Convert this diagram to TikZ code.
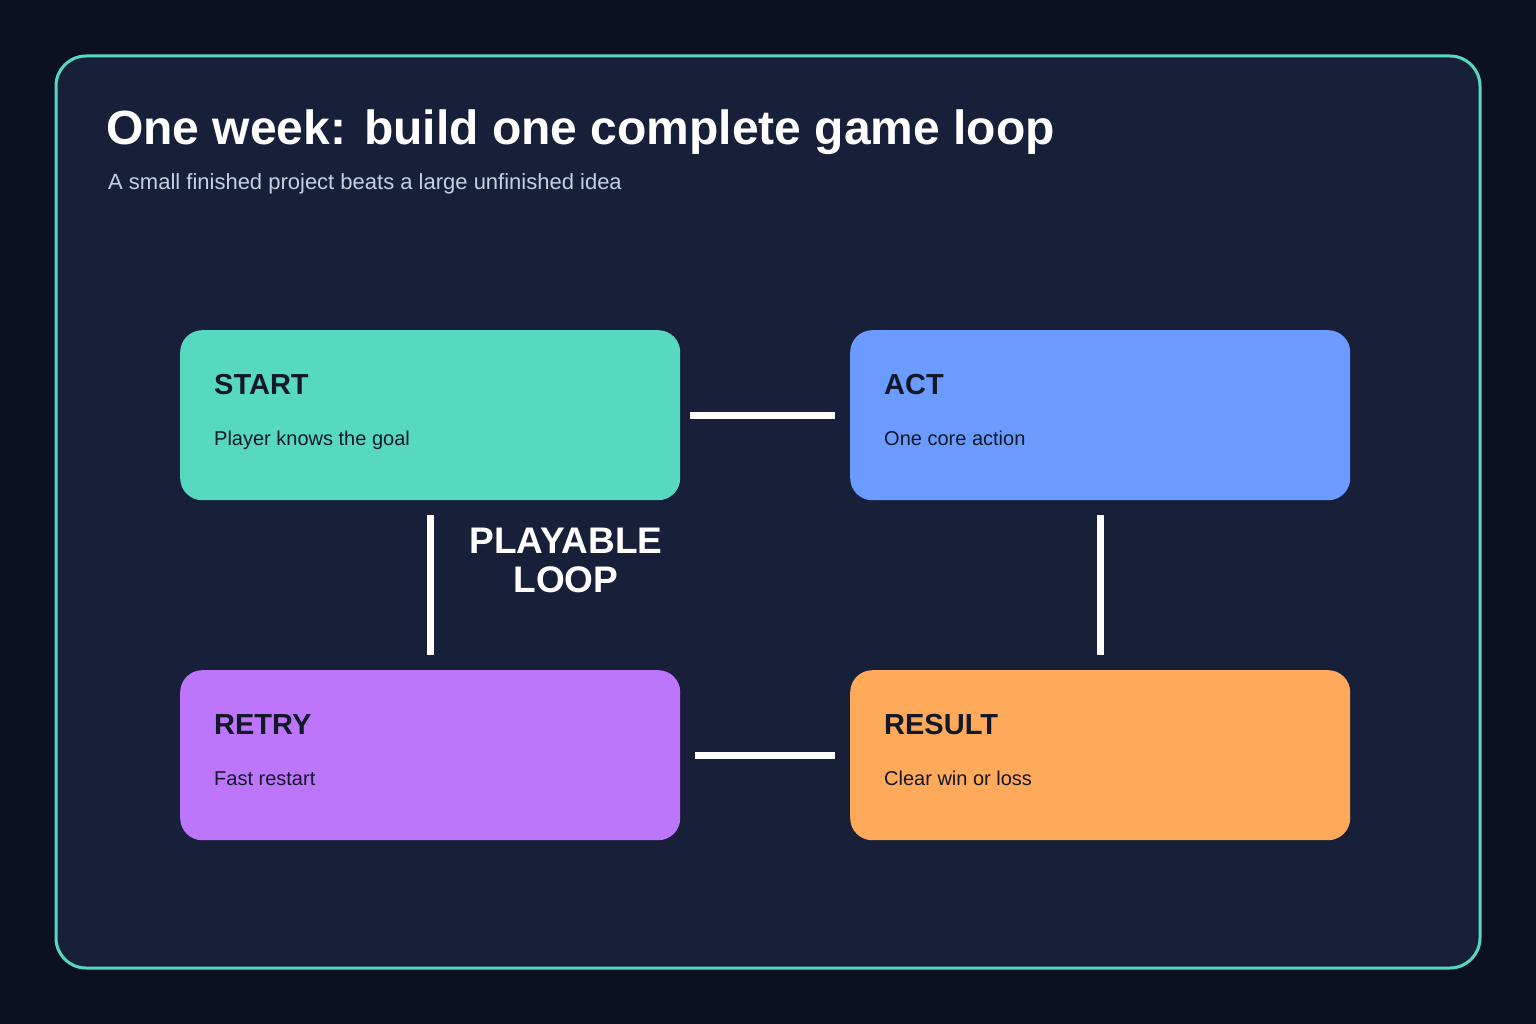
\documentclass[tikz,border=0pt]{standalone}
\usepackage{fontspec}
\setmainfont{Liberation Sans}
\usetikzlibrary{calc}
\definecolor{bg}{HTML}{0B1120}
\definecolor{panel}{HTML}{172038}
\definecolor{teal}{HTML}{56D9BF}
\definecolor{blue}{HTML}{6B9BFF}
\definecolor{purple}{HTML}{BC75FB}
\definecolor{orange}{HTML}{FFA95A}
\definecolor{ink}{HTML}{111827}
\definecolor{sub}{HTML}{C5D0E6}
\begin{document}
\begin{tikzpicture}[x=1pt,y=-1pt,
  box/.style={draw=none,rounded corners=22pt,minimum width=500pt,minimum height=170pt,anchor=north west,inner sep=0pt},
  ttl/.style={anchor=base west,font=\fontsize{29}{34}\selectfont\bfseries,text=ink},
  body/.style={anchor=base west,font=\fontsize{20}{24}\selectfont,text=ink},
  link/.style={draw=white,line width=7pt}]
\fill[bg] (0,0) rectangle (1536,1024);
\useasboundingbox (0,0) rectangle (1536,1024);
\draw[fill=panel,draw=teal,line width=3pt,rounded corners=30pt] (56,56) rectangle (1480,968);
\node[anchor=base west,text=white,font=\fontsize{48}{56}\selectfont\bfseries,inner sep=0pt] (title) at (106,145) {One week: build one complete game loop};
\node[anchor=base west,text=sub,font=\fontsize{22}{26}\selectfont,inner sep=0pt] (subt) at (108,190) {A small finished project beats a large unfinished idea};
\node[box,fill=teal] (start) at (180,330) {};
\node[box,fill=blue] (act) at (850,330) {};
\node[box,fill=purple] (retry) at (180,670) {};
\node[box,fill=orange] (result) at (850,670) {};
\node[ttl,inner sep=0pt] (t1) at (214,394) {START};
\node[body,inner sep=0pt] (b1) at (214,445) {Player knows the goal};
\node[ttl,inner sep=0pt] (t2) at (884,394) {ACT};
\node[body,inner sep=0pt] (b2) at (884,445) {One core action};
\node[ttl,inner sep=0pt] (t3) at (214,734) {RETRY};
\node[body,inner sep=0pt] (b3) at (214,785) {Fast restart};
\node[ttl,inner sep=0pt] (t4) at (884,734) {RESULT};
\node[body,inner sep=0pt] (b4) at (884,785) {Clear win or loss};
\draw[link] ($(start.east)+(10,0)$) -- ($(act.west)+(-15,0)$);
\draw[link] ($(retry.east)+(15,0)$) -- ($(result.west)+(-15,0)$);
\draw[link] ($(start.south)+(0,15)$) -- ($(retry.north)+(0,-15)$);
\draw[link] ($(act.south)+(0,15)$) -- ($(result.north)+(0,-15)$);
\node[text=white,font=\fontsize{37}{39}\selectfont\bfseries,align=center,inner sep=0pt] (loop) at (566,560) {PLAYABLE\\LOOP};
\end{tikzpicture}
\end{document}
